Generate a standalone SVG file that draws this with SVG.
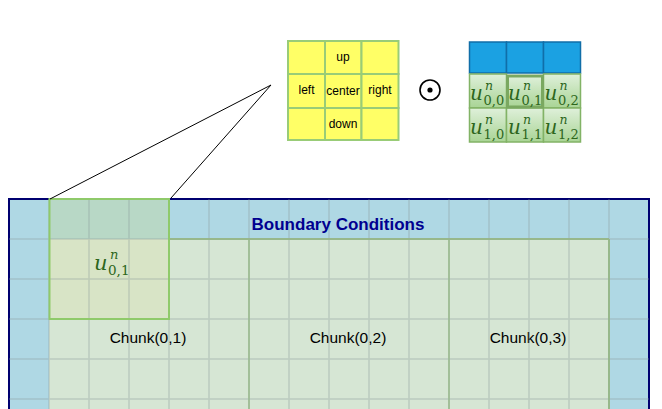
<svg xmlns="http://www.w3.org/2000/svg" width="662" height="409" viewBox="0 0 662 409">
<defs>
<linearGradient id="cellg" x1="0" y1="0" x2="0" y2="1">
<stop offset="0" stop-color="#dff0da"/>
<stop offset="1" stop-color="#a9d495"/>
</linearGradient>
<style>
.lbl{font-family:"Liberation Sans",Arial,sans-serif;font-size:12px;fill:#000;text-anchor:middle}
.chunk{font-family:"Liberation Sans",Arial,sans-serif;font-size:15.5px;fill:#000;text-anchor:middle}
.math{font-family:"DejaVu Serif","Liberation Serif",serif;fill:#2d661c}
.grid{stroke:#8a9a9a;stroke-opacity:0.35;stroke-width:1.5;fill:none}
.sten{fill:#ffff66;stroke:#99cc77;stroke-width:2}
.gcell{fill:url(#cellg);stroke:#82b366;stroke-width:1.5}
.bcell{fill:#1ba1e2;stroke:#106ea8;stroke-width:1.5}
</style>
</defs>
<rect width="662" height="409" fill="#ffffff"/>

<g id="domain">
<rect x="9" y="199" width="640" height="220" fill="#afd8e4" stroke="#000070" stroke-width="2"/>
</g>

<g id="chunks">
<rect x="49" y="239" width="560" height="180" fill="#d6e6d4"/>
<line x1="49" y1="239" x2="609" y2="239" stroke="#9cc487" stroke-width="2"/>
<line x1="609" y1="239" x2="609" y2="409" stroke="#9cc487" stroke-width="2"/>
<line x1="249" y1="239" x2="249" y2="409" stroke="#9cc487" stroke-width="1.5"/>
<line x1="449" y1="239" x2="449" y2="409" stroke="#9cc487" stroke-width="1.5"/>
<text class="chunk" x="148" y="343">Chunk(0,1)</text>
<text class="chunk" x="348" y="343">Chunk(0,2)</text>
<text class="chunk" x="528" y="343">Chunk(0,3)</text>
</g>

<g id="stencil-region">
<rect x="49" y="199" width="120" height="40" fill="#b8d8c6"/>
<rect x="49" y="239" width="120" height="80" fill="#d8e4c6"/>
</g>

<g id="gridlines">
<path class="grid" d="M49 199V409M89 199V409M129 199V409M169 199V409M209 199V409M249 199V409M289 199V409M329 199V409M369 199V409M409 199V409M449 199V409M489 199V409M529 199V409M569 199V409M609 199V409M9 239H649M9 279H649M9 319H649M9 359H649M9 399H649"/>
</g>

<g id="stencil-border">
<rect x="49.5" y="199" width="119.5" height="120" fill="none" stroke="#8fca6a" stroke-width="2"/>
<text class="math" x="94" y="270" font-size="21" font-style="italic">u</text>
<text class="math" x="110" y="259" font-size="13" font-style="italic">n</text>
<text class="math" x="108" y="275" font-size="13.5">0,1</text>
</g>

<g id="title">
<text x="338" y="230" font-family="'Liberation Sans',Arial,sans-serif" font-size="17" font-weight="bold" fill="#000090" text-anchor="middle">Boundary Conditions</text>
</g>

<g id="connectors">
<line x1="271" y1="85" x2="50" y2="199" stroke="#000" stroke-width="1"/>
<line x1="271" y1="85" x2="171" y2="198" stroke="#000" stroke-width="1"/>
</g>

<g id="stencil">
<rect class="sten" x="288" y="41" width="37" height="33"/>
<rect class="sten" x="325" y="41" width="36.5" height="33"/>
<rect class="sten" x="361.5" y="41" width="37" height="33"/>
<rect class="sten" x="288" y="74" width="37" height="34"/>
<rect class="sten" x="325" y="74" width="36.5" height="34"/>
<rect class="sten" x="361.5" y="74" width="37" height="34"/>
<rect class="sten" x="288" y="108" width="37" height="32"/>
<rect class="sten" x="325" y="108" width="36.5" height="32"/>
<rect class="sten" x="361.5" y="108" width="37" height="32"/>
<text class="lbl" x="343" y="61">up</text>
<text class="lbl" x="306.5" y="94">left</text>
<text class="lbl" x="343" y="95" font-size="10">center</text>
<text class="lbl" x="380" y="94">right</text>
<text class="lbl" x="343" y="128">down</text>
</g>

<g id="odot">
<circle cx="430" cy="90" r="10" fill="none" stroke="#000" stroke-width="1.6"/>
<circle cx="430" cy="90" r="2.6" fill="#000"/>
</g>

<g id="field">
<rect class="bcell" x="469.5" y="42" width="37" height="31"/>
<rect class="bcell" x="506.5" y="42" width="37" height="31"/>
<rect class="bcell" x="543.5" y="42" width="37" height="31"/>
<rect class="gcell" x="469.5" y="74" width="37" height="34"/>
<rect class="gcell" x="543.5" y="74" width="37" height="34"/>
<rect class="gcell" x="469.5" y="108" width="37" height="34"/>
<rect class="gcell" x="506.5" y="108" width="37" height="34"/>
<rect class="gcell" x="543.5" y="108" width="37" height="34"/>
<rect x="507.5" y="76" width="35" height="31" fill="url(#cellg)" stroke="#7aa860" stroke-width="3"/>
<g class="math" font-size="20">
<text x="470" y="100" font-style="italic">u</text><text x="485" y="90" font-size="12.5" font-style="italic">n</text><text x="483.5" y="105" font-size="13">0,0</text>
<text x="508" y="100" font-style="italic">u</text><text x="523" y="90" font-size="12.5" font-style="italic">n</text><text x="521.5" y="105" font-size="13">0,1</text>
<text x="544.5" y="100" font-style="italic">u</text><text x="559.5" y="90" font-size="12.5" font-style="italic">n</text><text x="558" y="105" font-size="13">0,2</text>
<text x="470" y="134" font-style="italic">u</text><text x="485" y="124" font-size="12.5" font-style="italic">n</text><text x="483.5" y="139" font-size="13">1,0</text>
<text x="508" y="134" font-style="italic">u</text><text x="523" y="124" font-size="12.5" font-style="italic">n</text><text x="521.5" y="139" font-size="13">1,1</text>
<text x="544.5" y="134" font-style="italic">u</text><text x="559.5" y="124" font-size="12.5" font-style="italic">n</text><text x="558" y="139" font-size="13">1,2</text>
</g>
</g>
</svg>
